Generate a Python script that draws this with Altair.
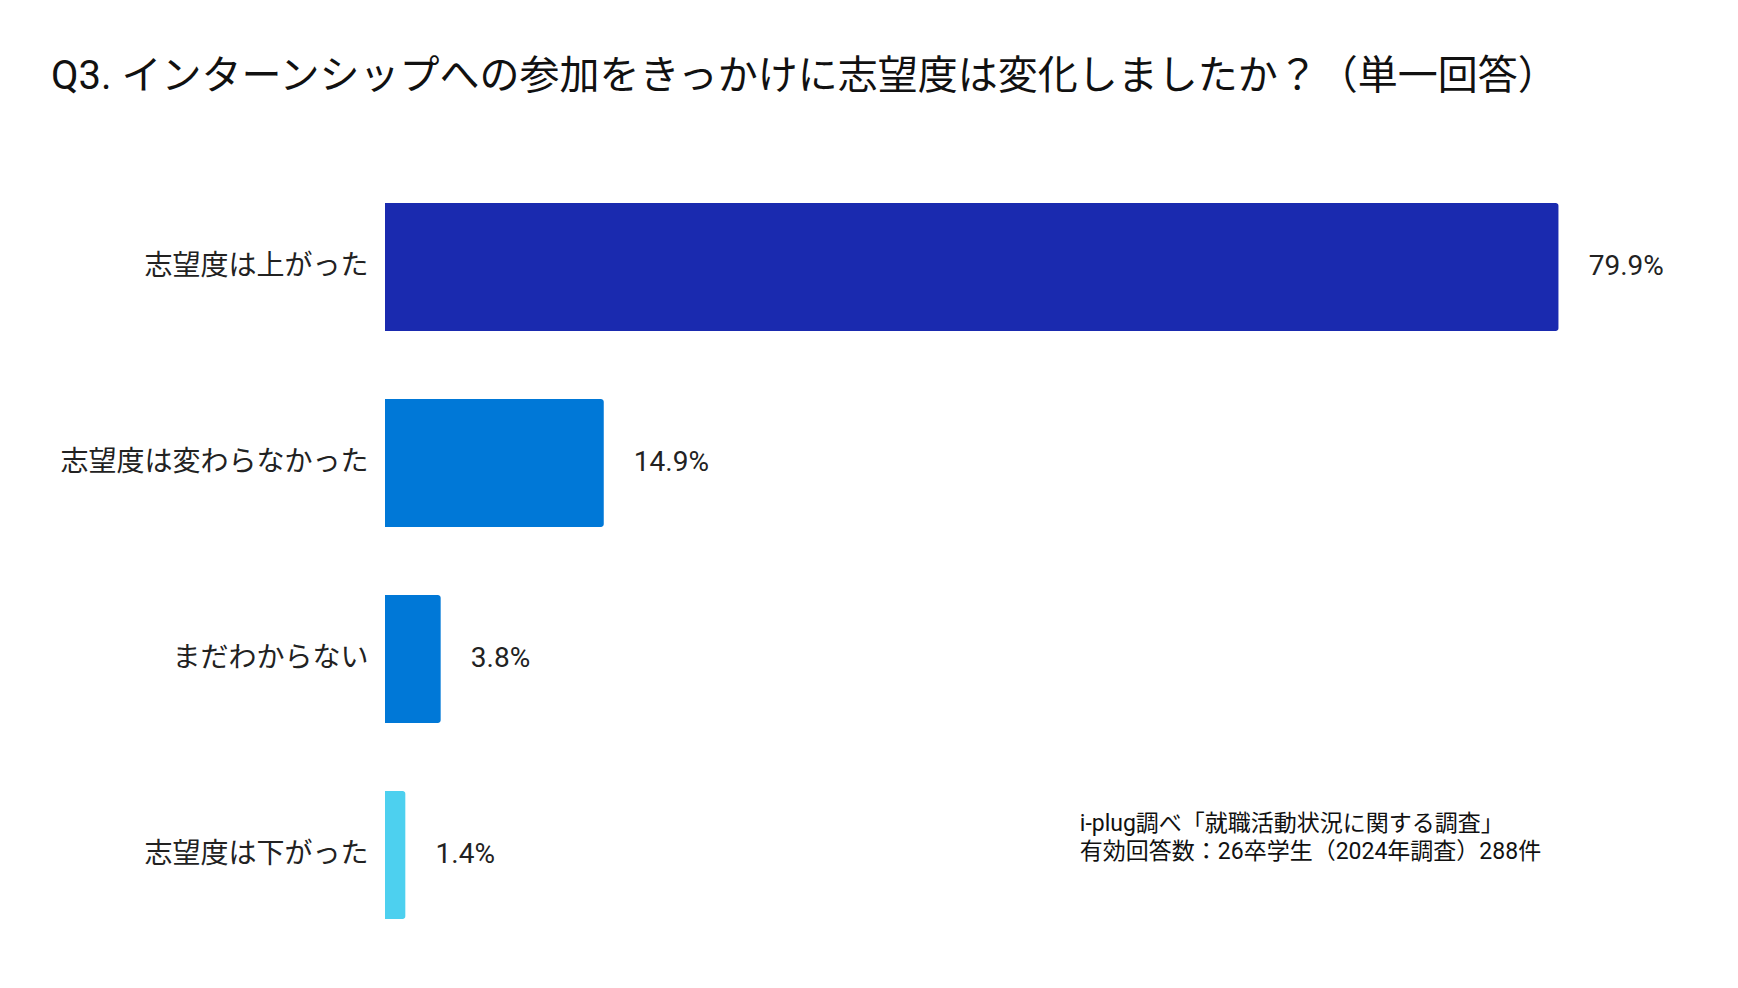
import altair as alt
import pandas as pd

categories = ["志望度は上がった", "志望度は変わらなかった", "まだわからない", "志望度は下がった"]
values = [79.9, 14.9, 3.8, 1.4]
colors = ["#1a2aaf", "#0078d7", "#0078d7", "#4dd0ef"]
title_text = "Q3. インターンシップへの参加をきっかけに志望度は変化しましたか？（単一回答）"
note_lines = ["i-plug調べ「就職活動状況に関する調査」", "有効回答数：26卒学生（2024年調査）288件"]

df = pd.DataFrame({"cat": categories, "value": values, "color": colors})
note_df = pd.DataFrame({"cat": [categories[-1]], "x": [47.3], "note": [note_lines]})

FONT = "Roboto, 'Noto Sans CJK JP'"

y_enc = alt.Y(
    "cat:N",
    sort=categories,
    scale=alt.Scale(paddingInner=0.347, paddingOuter=0.1735),
    axis=alt.Axis(
        title=None, domain=False, ticks=False, labelFontSize=28,
        labelColor="#222222", labelPadding=17, labelLimit=400,
        labelFont="Noto Sans CJK JP",
    ),
)
x_enc = alt.X("value:Q", scale=alt.Scale(domain=[0, 88.5], nice=False), axis=None)

bars = alt.Chart(df).mark_bar(cornerRadiusEnd=3).encode(
    y=y_enc, x=x_enc, color=alt.Color("color:N", scale=None)
)

labels = alt.Chart(df).transform_calculate(
    label="format(datum.value, '.1f') + '%'"
).mark_text(
    align="left", baseline="middle", dx=30, fontSize=28, font="Roboto", color="#222222"
).encode(y=y_enc, x=x_enc, text="label:N")

note = alt.Chart(note_df).mark_text(
    align="left", baseline="middle", dy=-31, fontSize=23, lineHeight=28,
    font=FONT, color="#111111"
).encode(
    y=alt.Y("cat:N", sort=categories),
    x=alt.X("x:Q", scale=alt.Scale(domain=[0, 88.5], nice=False)),
    text="note",
)

chart = alt.layer(bars, labels, note).properties(
    width=1300,
    height=784,
    title=alt.Title(
        title_text, anchor="start", frame="group", fontSize=40, fontWeight="normal",
        font=FONT, color="#111111", dx=-334, offset=40, baseline="alphabetic",
    ),
    autosize=alt.AutoSizeParams(type="none"),
    padding={"left": 377, "right": 40, "top": 161, "bottom": 20},
).configure(background="white").configure_view(stroke=None, strokeWidth=0)

chart.save("out.html", embed_options={"renderer": "svg", "actions": False})
